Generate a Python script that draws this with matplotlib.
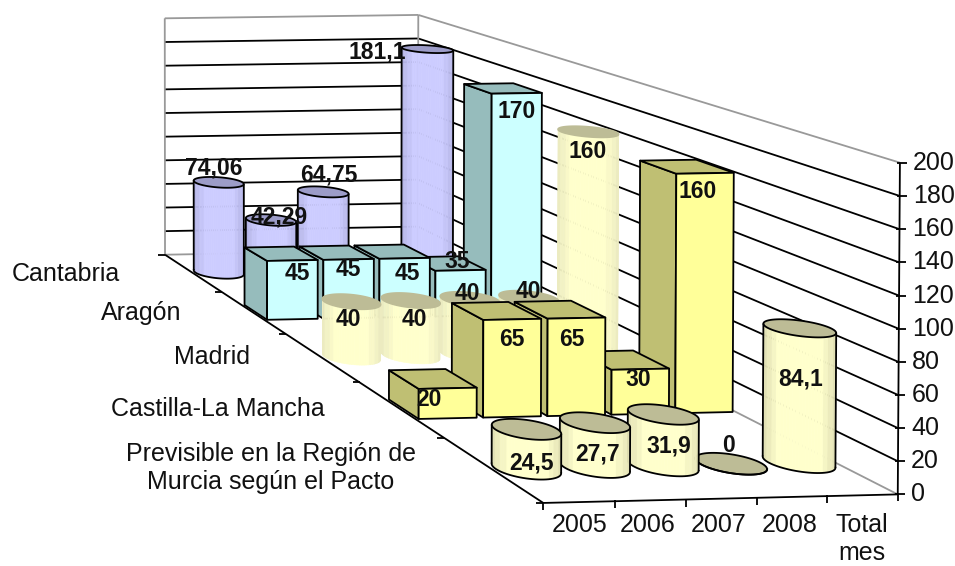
import numpy as np
import matplotlib
matplotlib.use('Agg')
import matplotlib.pyplot as plt
from matplotlib.patches import Polygon

plt.rcParams['font.family'] = ['Liberation Sans', 'DejaVu Sans']

years = ['2005', '2006', '2007', '2008', 'Total\nmes']
regions = ['Cantabria', 'Aragón', 'Madrid', 'Castilla-La Mancha',
           'Previsible en la Región de\nMurcia según el Pacto']
z_ticks = [0, 20, 40, 60, 80, 100, 120, 140, 160, 180, 200]

cantabria = [74.06, 42.29, 64.75, None, 181.1]
aragon = [45, 45, 45, 35, 170]
madrid = [40, 40, 40, 40, 160]
castilla = [20, 65, 65, 30, 160]
previsible = [24.5, 27.7, 31.9, 0, 84.1]
series = [cantabria, aragon, madrid, castilla, previsible]

# look of each row, back to front: (shape, side, mid/front, top, outlined)
styles = [
    ('cyl', '#b4b4e6', '#ccccff', '#9c9cc8', True),
    ('box', '#96bcbc', '#ccffff', '#96bcbc', True),
    ('cyl', '#ecebc0', '#ffffcc', '#bdbc96', False),
    ('box', '#bfbf73', '#ffff99', '#bfbf73', True),
    ('cyl', '#e2e1b4', '#ffffcc', '#bdbc96', True),
]

# where the labels sit in the picture, same order as the series
label_xy = [
    [(214, 168), (279, 217), (329, 175), None, (377, 52)],
    [(297, 273), (348, 270), (407, 273), (457, 262), (517, 111)],
    [(348, 319), (414, 319), (467, 294), (528, 291), (588, 151)],
    [(429, 400), (512, 340), (572, 340), (638, 380), (698, 192)],
    [(531, 463), (598, 454), (669, 446), (728, 446), (801, 379)],
]

# corners of the plot box: column, row from the back, value -> pixel
world = [(0, 0, 0), (5, 0, 0), (5, 5, 0), (0, 5, 0), (0, 0, 200), (5, 0, 200), (5, 5, 200)]
pixel = [(165, 255), (418, 250), (898, 494), (543, 503), (165, 18), (418, 15), (900, 163)]

rows = []
for (a, b, c), (x, y) in zip(world, pixel):
    rows.append([a, b, c, 1, 0, 0, 0, 0, -x * a, -x * b, -x * c, -x])
    rows.append([0, 0, 0, 0, a, b, c, 1, -y * a, -y * b, -y * c, -y])
P = np.linalg.svd(np.array(rows, float))[2][-1].reshape(3, 4)


def project(u, v, z):
    h = P @ np.array([u, v, z, 1.0])
    return h[0] / h[2], h[1] / h[2]


fig = plt.figure(figsize=(9.55, 5.66), dpi=100)
ax = fig.add_axes([0, 0, 1, 1])
ax.set_xlim(0, 955)
ax.set_ylim(566, 0)
ax.axis('off')


def line(p, q, color='black', lw=1.3, zorder=1):
    ax.plot([p[0], q[0]], [p[1], q[1]], color=color, lw=lw, zorder=zorder,
            solid_capstyle='butt')


# walls
for z in z_ticks:
    col = '#999999' if z in (0, 200) else 'black'
    line(project(0, 0, z), project(5, 0, z), col)
    line(project(5, 0, z), project(5, 5, z), col)
line(project(0, 0, 0), project(0, 0, 200), '#999999')
line(project(5, 0, 0), project(5, 0, 200), '#999999')

# axes
line(project(0, 0, 0), project(0, 5, 0))
line(project(0, 5, 0), project(5, 5, 0))
line(project(5, 5, 0), project(5, 5, 200))
for z in z_ticks:
    x, y = project(5, 5, z)
    line((x - 3, y), (x + 7, y))
    ax.text(x + 13, y, str(z), fontsize=18, ha='left', va='center', color='#111111')
for i in range(6):
    x, y = project(i, 5, 0)
    line((x, y - 1), (x, y + 7))
for i in range(6):
    x, y = project(0, i, 0)
    line((x - 7, y), (x, y))

year_x = [580, 648, 719, 790, 862]
for name, x in zip(years, year_x):
    ax.text(x, 513, name, fontsize=18, ha='center', va='top', color='#111111', linespacing=1.2)
region_xy = [(66, 274), (141, 313), (212, 357), (218, 409), (271, 468)]
for name, (x, y) in zip(regions, region_xy):
    ax.text(x, y, name, fontsize=18, ha='center', va='center', color='#111111', linespacing=1.2)


def draw_box(c, r, value, side, front, top, order):
    w, d = 0.9, 0.35
    u0, u1 = c + (1 - w) / 2, c + (1 + w) / 2
    v0, v1 = r + (1 - d) / 2, r + (1 + d) / 2
    faces = [
        ([(u0, v0, 0), (u0, v1, 0), (u0, v1, value), (u0, v0, value)], side),
        ([(u0, v0, value), (u1, v0, value), (u1, v1, value), (u0, v1, value)], top),
        ([(u0, v1, 0), (u1, v1, 0), (u1, v1, value), (u0, v1, value)], front),
    ]
    for corners, color in faces:
        pts = [project(*p) for p in corners]
        ax.add_patch(Polygon(pts, closed=True, facecolor=color, edgecolor='black',
                             lw=1.3, joinstyle='round', zorder=order))


def draw_cyl(c, r, value, side, mid, top, outlined, order):
    ru, rv = 0.44, 0.17
    uc, vc = c + 0.5, r + 0.5
    t = np.linspace(0, 2 * np.pi, 73)
    low = np.array([project(uc + ru * np.cos(a), vc + rv * np.sin(a), 0) for a in t])
    high = np.array([project(uc + ru * np.cos(a), vc + rv * np.sin(a), value) for a in t])
    edge = np.array(matplotlib.colors.to_rgb(side))
    centre = np.array(matplotlib.colors.to_rgb(mid))
    # front half of the wall is a run of flat bands, like the original
    start, stop = low[:, 0].argmax(), low[:, 0].argmin()
    x_min, x_max = low[:, 0].min(), low[:, 0].max()
    for i in range(start, stop):
        s = ((low[i, 0] + low[i + 1, 0]) / 2 - x_min) / (x_max - x_min)
        k = np.round(np.clip((1 - abs(2 * s - 1)) * 2.2, 0, 1) * 3) / 3
        color = edge + (centre - edge) * k
        pts = [low[i], low[i + 1], high[i + 1], high[i]]
        ax.add_patch(Polygon(pts, closed=True, facecolor=color, edgecolor=color,
                             lw=0.4, zorder=order))
    ax.add_patch(Polygon(high, closed=True, facecolor=top, edgecolor='black' if outlined else top,
                         lw=1.3, zorder=order))
    if outlined:
        ax.plot(low[start:stop + 1, 0], low[start:stop + 1, 1], color='black', lw=1.3, zorder=order)
        line(low[start], high[start], zorder=order)
        line(low[stop], high[stop], zorder=order)


order = 10
for r, values in enumerate(series):
    shape, side, front, top, outlined = styles[r]
    for c in range(len(values) - 1, -1, -1):
        if values[c] is None:
            continue
        order += 1
        if shape == 'box':
            draw_box(c, r, values[c], side, front, top, order)
        else:
            draw_cyl(c, r, values[c], side, front, top, outlined, order)

for values, places in zip(series, label_xy):
    for value, place in zip(values, places):
        if value is None:
            continue
        ax.text(place[0], place[1], f'{value:g}'.replace('.', ','), fontsize=16.5,
                fontweight='bold', ha='center', va='center', color='#111111', zorder=100)

fig.savefig('out.png', dpi=100, facecolor='white')
